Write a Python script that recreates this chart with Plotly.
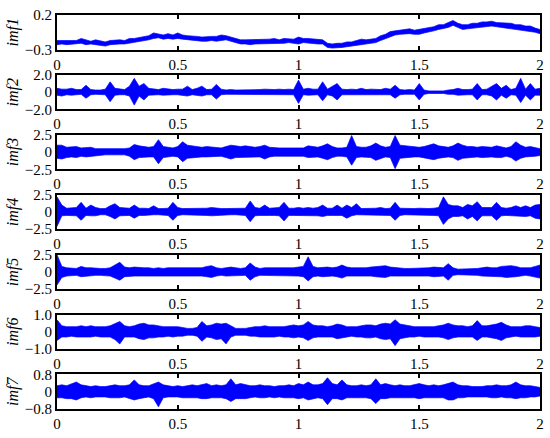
import numpy as np
import plotly.graph_objects as go
from plotly.subplots import make_subplots

# sample times, 0 to 2 s in 0.02 s steps
t = np.round(np.arange(101) * 0.02, 2)

# upper / lower envelope of each IMF
imf1_hi = [-0.17, -0.17, -0.16, -0.16, -0.17, -0.14, -0.16, -0.18, -0.16, -0.18,
           -0.19, -0.17, -0.16, -0.16, -0.17, -0.14, -0.14, -0.13, -0.11, -0.10,
           -0.06, -0.07, -0.09, -0.07, -0.09, -0.06, -0.09, -0.10, -0.10, -0.11,
           -0.12, -0.11, -0.11, -0.11, -0.09, -0.10, -0.12, -0.13, -0.16, -0.16,
           -0.16, -0.16, -0.15, -0.16, -0.15, -0.14, -0.16, -0.14, -0.14, -0.15,
           -0.12, -0.14, -0.14, -0.15, -0.15, -0.16, -0.21, -0.22, -0.21, -0.21,
           -0.19, -0.19, -0.17, -0.15, -0.16, -0.15, -0.14, -0.10, -0.08, -0.04,
           -0.03, -0.01, -0.01, 0.00, -0.02, -0.01, 0.00, 0.02, 0.03, 0.06,
           0.06, 0.09, 0.12, 0.08, 0.06, 0.06, 0.08, 0.08, 0.10, 0.10,
           0.11, 0.09, 0.09, 0.08, 0.08, 0.06, 0.06, 0.04, 0.04, 0.01,
           -0.01]
imf1_lo = [-0.23, -0.22, -0.23, -0.22, -0.22, -0.21, -0.23, -0.22, -0.23, -0.24,
           -0.25, -0.23, -0.22, -0.22, -0.22, -0.21, -0.20, -0.19, -0.18, -0.16,
           -0.14, -0.13, -0.15, -0.14, -0.15, -0.14, -0.15, -0.16, -0.17, -0.17,
           -0.18, -0.18, -0.17, -0.18, -0.17, -0.16, -0.18, -0.20, -0.22, -0.22,
           -0.23, -0.22, -0.22, -0.22, -0.21, -0.21, -0.22, -0.21, -0.20, -0.21,
           -0.22, -0.20, -0.21, -0.21, -0.22, -0.22, -0.27, -0.28, -0.28, -0.27,
           -0.26, -0.25, -0.24, -0.23, -0.22, -0.22, -0.20, -0.17, -0.14, -0.11,
           -0.09, -0.08, -0.07, -0.07, -0.08, -0.08, -0.06, -0.05, -0.03, -0.01,
           0.00, 0.02, 0.05, 0.02, -0.01, 0.00, 0.01, 0.02, 0.03, 0.04,
           0.04, 0.03, 0.02, 0.02, 0.01, 0.00, -0.01, -0.02, -0.03, -0.05,
           -0.07]

imf2_hi = [0.45, 0.35, 0.35, 0.45, 0.3, 0.3, 0.8, 0.3, 0.25, 0.25,
           0.35, 1.2, 0.45, 0.35, 0.3, 0.7, 1.6, 0.7, 1.0, 0.45,
           0.35, 0.3, 0.45, 0.35, 0.3, 0.35, 0.35, 0.7, 0.3, 0.45,
           0.7, 0.3, 0.35, 0.9, 0.35, 0.25, 0.3, 0.25, 0.25, 0.3,
           0.3, 0.25, 0.3, 0.35, 0.3, 0.3, 0.35, 0.3, 0.35, 0.3,
           1.4, 0.35, 0.45, 0.35, 0.35, 1.2, 0.35, 0.7, 1.0, 0.35,
           0.3, 0.35, 0.3, 0.45, 0.3, 0.35, 0.3, 0.3, 0.45, 0.35,
           0.8, 0.3, 0.25, 0.3, 0.25, 1.0, 0.25, 0.15, 0.15, 0.15,
           0.15, 0.25, 0.3, 0.45, 0.3, 0.3, 0.35, 1.0, 0.3, 0.35,
           0.7, 1.0, 0.45, 0.8, 0.3, 0.45, 1.6, 0.35, 1.0, 0.35,
           0.45]
imf2_lo = [-0.35, -0.45, -0.3, -0.35, -0.3, -0.25, -0.7, -0.3, -0.25, -0.25,
           -0.3, -1.1, -0.35, -0.3, -0.3, -0.45, -1.5, -0.45, -0.9, -0.35,
           -0.3, -0.3, -0.35, -0.3, -0.3, -0.3, -0.35, -0.45, -0.3, -0.35,
           -0.45, -0.3, -0.3, -0.8, -0.3, -0.25, -0.25, -0.25, -0.25, -0.25,
           -0.25, -0.25, -0.3, -0.3, -0.3, -0.25, -0.3, -0.3, -0.3, -0.3,
           -1.3, -0.3, -0.35, -0.35, -0.3, -1.0, -0.3, -0.45, -0.9, -0.3,
           -0.3, -0.3, -0.3, -0.35, -0.3, -0.3, -0.3, -0.3, -0.35, -0.3,
           -0.7, -0.3, -0.25, -0.25, -0.25, -0.9, -0.25, -0.15, -0.15, -0.15,
           -0.15, -0.25, -0.25, -0.35, -0.3, -0.3, -0.3, -0.9, -0.3, -0.3,
           -0.45, -0.9, -0.35, -0.7, -0.3, -0.35, -1.2, -0.35, -0.9, -0.35,
           -0.35]

imf3_hi = [1.0, 1.0, 0.7, 0.8, 0.8, 0.6, 0.7, 0.7, 0.5, 0.5,
           0.4, 0.4, 0.4, 0.5, 0.5, 0.6, 1.1, 0.9, 0.8, 0.7,
           0.8, 1.8, 0.8, 0.7, 0.6, 0.8, 1.5, 1.0, 0.9, 0.7,
           0.7, 0.8, 0.7, 0.7, 0.6, 0.8, 1.0, 0.9, 0.8, 0.9,
           0.8, 0.7, 0.8, 1.0, 0.7, 0.6, 0.6, 0.6, 0.6, 0.7,
           0.7, 0.6, 0.9, 0.8, 0.7, 0.9, 1.2, 0.8, 0.6, 0.6,
           0.7, 2.4, 0.8, 0.7, 0.7, 0.9, 1.3, 0.9, 0.7, 0.8,
           2.4, 1.0, 0.9, 0.8, 0.7, 0.7, 0.8, 1.0, 1.2, 0.9,
           0.8, 0.7, 0.9, 1.3, 1.0, 0.8, 0.8, 0.7, 0.8, 0.8,
           0.7, 0.9, 0.8, 0.6, 0.8, 1.5, 1.0, 0.7, 0.8, 0.6,
           0.5]
imf3_lo = [-0.9, -1.0, -0.8, -0.7, -0.8, -0.6, -0.7, -0.6, -0.5, -0.5,
           -0.4, -0.4, -0.4, -0.5, -0.4, -0.6, -1.1, -0.8, -0.7, -0.7,
           -0.7, -1.7, -0.8, -0.7, -0.6, -0.7, -1.4, -0.9, -0.8, -0.7,
           -0.7, -0.7, -0.7, -0.6, -0.6, -0.8, -1.0, -0.8, -0.8, -0.8,
           -0.8, -0.7, -0.7, -1.0, -0.7, -0.6, -0.6, -0.6, -0.6, -0.6,
           -0.7, -0.6, -0.8, -0.8, -0.7, -0.9, -1.1, -0.8, -0.6, -0.6,
           -0.7, -1.9, -0.8, -0.7, -0.7, -0.8, -1.2, -0.9, -0.7, -0.8,
           -2.4, -0.9, -0.8, -0.8, -0.7, -0.7, -0.8, -0.9, -1.1, -0.9,
           -0.8, -0.7, -0.8, -1.2, -0.9, -0.8, -0.7, -0.7, -0.8, -0.7,
           -0.7, -0.8, -0.8, -0.6, -0.8, -1.3, -0.9, -0.7, -0.7, -0.6,
           -0.5]

imf4_hi = [2.2, 1.0, 0.55, 0.55, 0.65, 1.4, 0.55, 1.0, 0.65, 0.5,
           0.5, 0.9, 1.2, 0.65, 0.55, 0.55, 1.0, 0.55, 0.55, 0.5,
           0.9, 0.5, 0.5, 0.55, 1.4, 0.65, 0.5, 0.5, 0.5, 0.55,
           0.5, 0.55, 0.65, 0.55, 0.5, 0.5, 0.5, 0.5, 0.55, 0.55,
           1.6, 0.65, 0.55, 1.0, 0.55, 0.55, 0.65, 1.4, 0.55, 0.55,
           0.65, 0.55, 0.65, 0.55, 0.65, 1.0, 0.55, 0.55, 1.0, 0.55,
           1.0, 0.65, 1.2, 0.5, 0.5, 0.5, 0.55, 0.65, 0.5, 0.55,
           1.4, 0.55, 0.5, 0.5, 0.5, 0.55, 0.5, 0.5, 0.55, 0.65,
           2.2, 1.1, 0.9, 0.9, 0.65, 1.1, 0.9, 1.5, 0.65, 0.65,
           0.65, 1.4, 0.65, 0.55, 0.65, 0.9, 0.65, 0.9, 0.65, 1.0,
           1.1]
imf4_lo = [-2.1, -0.55, -0.5, -0.5, -0.55, -1.2, -0.5, -0.55, -0.55, -0.4,
           -0.4, -0.65, -1.0, -0.55, -0.5, -0.5, -0.9, -0.5, -0.5, -0.4,
           -0.4, -0.4, -0.4, -0.5, -1.2, -0.5, -0.4, -0.4, -0.4, -0.5,
           -0.4, -0.5, -0.55, -0.5, -0.4, -0.4, -0.4, -0.4, -0.5, -0.5,
           -1.4, -0.55, -0.5, -0.55, -0.5, -0.5, -0.55, -1.3, -0.5, -0.5,
           -0.5, -0.5, -0.55, -0.5, -0.55, -0.65, -0.5, -0.5, -0.55, -0.5,
           -0.9, -0.55, -0.4, -0.4, -0.4, -0.4, -0.5, -0.5, -0.4, -0.5,
           -1.2, -0.5, -0.4, -0.4, -0.4, -0.4, -0.4, -0.4, -0.5, -0.55,
           -1.8, -1.0, -0.65, -0.65, -0.55, -1.0, -0.65, -1.3, -0.55, -0.55,
           -0.55, -1.2, -0.55, -0.5, -0.55, -0.5, -0.55, -0.65, -0.55, -0.9,
           -1.0]

imf5_hi = [2.5, 0.8, 0.6, 0.6, 0.5, 0.8, 0.6, 0.6, 0.5, 0.5,
           0.5, 0.6, 1.0, 1.4, 0.7, 0.6, 0.7, 0.6, 0.6, 0.6,
           0.5, 0.6, 0.5, 0.6, 0.6, 0.6, 0.5, 0.6, 0.6, 0.5,
           0.6, 0.8, 0.9, 0.6, 0.5, 0.6, 0.7, 0.6, 0.5, 0.6,
           1.3, 0.7, 0.5, 0.6, 0.6, 0.5, 0.6, 0.6, 0.6, 0.6,
           0.7, 0.8, 2.2, 0.8, 0.6, 0.7, 0.7, 0.6, 0.7, 1.0,
           0.7, 0.6, 0.6, 0.5, 0.6, 0.7, 0.8, 0.8, 0.9, 0.7,
           0.6, 0.6, 0.5, 0.5, 0.5, 0.5, 0.6, 0.6, 0.7, 0.6,
           0.6, 1.2, 0.6, 0.4, 0.4, 0.4, 0.4, 0.5, 0.6, 0.7,
           0.6, 0.6, 0.8, 0.9, 0.9, 0.8, 0.6, 0.6, 0.6, 0.8,
           1.0]
imf5_lo = [-1.9, -0.8, -0.6, -0.5, -0.5, -0.7, -0.6, -0.5, -0.5, -0.5,
           -0.5, -0.6, -0.9, -1.2, -0.7, -0.6, -0.6, -0.6, -0.6, -0.5,
           -0.5, -0.5, -0.5, -0.6, -0.6, -0.5, -0.5, -0.6, -0.5, -0.5,
           -0.6, -0.7, -0.8, -0.6, -0.5, -0.6, -0.6, -0.6, -0.5, -0.5,
           -1.2, -0.7, -0.5, -0.5, -0.6, -0.5, -0.6, -0.5, -0.6, -0.6,
           -0.6, -0.7, -1.3, -0.7, -0.6, -0.7, -0.6, -0.6, -0.7, -0.9,
           -0.6, -0.6, -0.5, -0.5, -0.6, -0.6, -0.7, -0.8, -0.8, -0.6,
           -0.6, -0.5, -0.5, -0.5, -0.5, -0.5, -0.5, -0.6, -0.7, -0.6,
           -0.6, -1.2, -0.5, -0.4, -0.4, -0.4, -0.4, -0.5, -0.6, -0.6,
           -0.6, -0.6, -0.7, -0.8, -0.8, -0.7, -0.6, -0.5, -0.6, -0.7,
           -0.9]

imf6_hi = [0.7, 0.35, 0.3, 0.3, 0.3, 0.35, 0.3, 0.35, 0.3, 0.3,
           0.3, 0.35, 0.5, 0.6, 0.35, 0.3, 0.35, 0.45, 0.5, 0.4,
           0.4, 0.35, 0.3, 0.3, 0.3, 0.3, 0.25, 0.2, 0.2, 0.25,
           0.6, 0.35, 0.4, 0.5, 0.45, 0.5, 0.35, 0.2, 0.2, 0.2,
           0.25, 0.3, 0.3, 0.35, 0.3, 0.3, 0.3, 0.3, 0.35, 0.4,
           0.35, 0.4, 0.6, 0.4, 0.35, 0.35, 0.3, 0.35, 0.45, 0.4,
           0.3, 0.3, 0.3, 0.35, 0.4, 0.4, 0.35, 0.45, 0.5, 0.45,
           0.7, 0.45, 0.4, 0.35, 0.3, 0.3, 0.3, 0.3, 0.3, 0.35,
           0.4, 0.5, 0.4, 0.35, 0.35, 0.3, 0.35, 0.65, 0.35, 0.35,
           0.4, 0.45, 0.55, 0.4, 0.3, 0.3, 0.3, 0.35, 0.35, 0.3,
           0.25]
imf6_lo = [-0.5, -0.3, -0.3, -0.25, -0.3, -0.3, -0.3, -0.3, -0.25, -0.3,
           -0.3, -0.3, -0.45, -0.7, -0.3, -0.3, -0.3, -0.4, -0.45, -0.35,
           -0.35, -0.3, -0.3, -0.25, -0.3, -0.25, -0.25, -0.2, -0.2, -0.25,
           -0.55, -0.3, -0.35, -0.45, -0.4, -0.7, -0.3, -0.2, -0.2, -0.2,
           -0.25, -0.25, -0.3, -0.3, -0.3, -0.3, -0.25, -0.3, -0.3, -0.35,
           -0.3, -0.35, -0.5, -0.35, -0.3, -0.3, -0.3, -0.3, -0.4, -0.35,
           -0.3, -0.25, -0.3, -0.3, -0.35, -0.35, -0.3, -0.4, -0.45, -0.4,
           -0.8, -0.4, -0.35, -0.3, -0.3, -0.25, -0.3, -0.3, -0.3, -0.3,
           -0.35, -0.45, -0.35, -0.3, -0.3, -0.3, -0.3, -0.5, -0.3, -0.3,
           -0.35, -0.4, -0.5, -0.35, -0.3, -0.25, -0.3, -0.3, -0.3, -0.3,
           -0.25]

imf7_hi = [0.28, 0.32, 0.28, 0.38, 0.45, 0.32, 0.28, 0.24, 0.28, 0.24,
           0.24, 0.28, 0.32, 0.28, 0.28, 0.32, 0.55, 0.32, 0.28, 0.28,
           0.38, 0.45, 0.32, 0.28, 0.24, 0.28, 0.24, 0.28, 0.32, 0.28,
           0.32, 0.38, 0.28, 0.32, 0.28, 0.32, 0.6, 0.32, 0.38, 0.32,
           0.28, 0.28, 0.32, 0.28, 0.28, 0.24, 0.28, 0.28, 0.32, 0.28,
           0.38, 0.32, 0.45, 0.32, 0.32, 0.38, 0.65, 0.38, 0.32, 0.55,
           0.32, 0.28, 0.28, 0.32, 0.28, 0.32, 0.6, 0.32, 0.38, 0.32,
           0.28, 0.32, 0.28, 0.28, 0.32, 0.38, 0.32, 0.28, 0.32, 0.28,
           0.32, 0.38, 0.45, 0.32, 0.28, 0.28, 0.24, 0.24, 0.24, 0.28,
           0.28, 0.32, 0.28, 0.28, 0.32, 0.45, 0.32, 0.28, 0.28, 0.24,
           0.2]
imf7_lo = [-0.28, -0.28, -0.32, -0.32, -0.38, -0.28, -0.24, -0.28, -0.24, -0.24,
           -0.24, -0.28, -0.28, -0.28, -0.24, -0.32, -0.38, -0.32, -0.28, -0.24,
           -0.32, -0.7, -0.28, -0.24, -0.24, -0.24, -0.28, -0.28, -0.28, -0.28,
           -0.32, -0.32, -0.28, -0.28, -0.28, -0.32, -0.45, -0.32, -0.32, -0.32,
           -0.28, -0.24, -0.28, -0.28, -0.24, -0.28, -0.24, -0.28, -0.28, -0.28,
           -0.32, -0.28, -0.38, -0.32, -0.28, -0.32, -0.6, -0.32, -0.32, -0.38,
           -0.28, -0.28, -0.28, -0.28, -0.28, -0.32, -0.55, -0.32, -0.32, -0.28,
           -0.28, -0.28, -0.28, -0.28, -0.28, -0.32, -0.28, -0.28, -0.28, -0.28,
           -0.28, -0.38, -0.38, -0.28, -0.28, -0.24, -0.24, -0.24, -0.24, -0.24,
           -0.28, -0.28, -0.24, -0.28, -0.28, -0.32, -0.28, -0.28, -0.24, -0.24,
           -0.2]

names = ["imf1", "imf2", "imf3", "imf4", "imf5", "imf6", "imf7"]
y_ticks = [[-0.3, 0.2], [-2, 0, 2], [-2.5, 0, 2.5], [-2.5, 0, 2.5],
           [-2.5, 0, 2.5], [-1, 0, 1], [-0.8, 0, 0.8]]
y_labels = [["−0.3", "0.2"], ["−2.0", "0", "2.0"], ["−2.5", "0", "2.5"],
            ["−2.5", "0", "2.5"], ["−2.5", "0", "2.5"], ["−1.0", "0", "1.0"],
            ["−0.8", "0", "0.8"]]
x_ticks = [0, 0.5, 1, 1.5, 2]
x_labels = ["0", "0.5", "1", "1.5", "2"]

highs = [imf1_hi, imf2_hi, imf3_hi, imf4_hi, imf5_hi, imf6_hi, imf7_hi]
lows = [imf1_lo, imf2_lo, imf3_lo, imf4_lo, imf5_lo, imf6_lo, imf7_lo]

BLUE = "#0000FF"
FONT = "Times New Roman"

fig = make_subplots(rows=7, cols=1, vertical_spacing=0.0645)

for i, (hi, lo) in enumerate(zip(highs, lows)):
    row = i + 1
    fig.add_trace(go.Scatter(x=t, y=hi, mode="lines",
                             line=dict(color=BLUE, width=0.7)), row=row, col=1)
    fig.add_trace(go.Scatter(x=t, y=lo, mode="lines", fill="tonexty",
                             fillcolor=BLUE,
                             line=dict(color=BLUE, width=0.7)), row=row, col=1)
    fig.update_xaxes(range=[0, 2], tickvals=x_ticks, ticktext=x_labels,
                     ticks="inside", ticklen=4, tickwidth=1.5, tickcolor="black",
                     showline=True, linecolor="black", linewidth=2, mirror="ticks",
                     showgrid=False, zeroline=False, automargin=False,
                     row=row, col=1)
    fig.update_yaxes(range=[y_ticks[i][0], y_ticks[i][-1]], tickvals=y_ticks[i],
                     ticktext=y_labels[i], ticks="",
                     showline=True, linecolor="black", linewidth=2, mirror=True,
                     showgrid=False, zeroline=False, automargin=False,
                     title=dict(text=f"<i>{names[i]}</i>", standoff=2,
                                font=dict(size=16)),
                     row=row, col=1)

fig.update_layout(
    width=550, height=438,
    showlegend=False,
    paper_bgcolor="white", plot_bgcolor="white",
    font=dict(family=FONT, size=15, color="black"),
    margin=dict(l=57, r=10, t=15, b=29),
)

# drop the browser's default 8px body margin so the figure sits at (0, 0)
fig.write_html("out.html", config={"displayModeBar": False},
               post_script="document.body.style.margin = '0';")
